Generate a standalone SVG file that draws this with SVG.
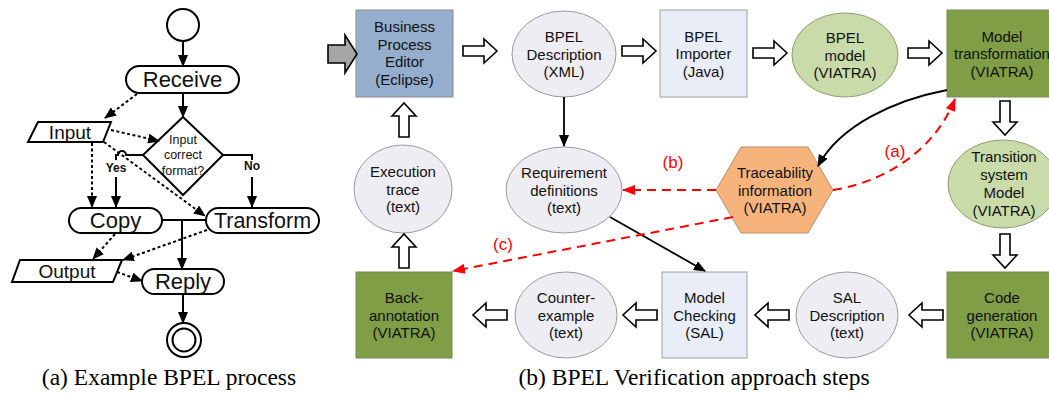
<svg xmlns="http://www.w3.org/2000/svg" xmlns:xlink="http://www.w3.org/1999/xlink" width="1049" height="394" viewBox="0 0 1049 394">
<style>
.t{font-family:"Liberation Sans",Arial,sans-serif;fill:#111;text-anchor:middle}
.n{font-size:15px}
.big{font-size:22px}
.lc{stroke:#000;stroke-width:2;fill:none}
.dot{stroke:#000;stroke-width:2;fill:none;stroke-dasharray:3,2.5}
.sol{stroke:#000;stroke-width:1.8;fill:none}
.red{stroke:#f00;stroke-width:2;fill:none;stroke-dasharray:9,6}
.ha{fill:#fff;stroke:#000;stroke-width:1.6}
.cap{font-family:"Liberation Serif","Times New Roman",serif;font-size:23.5px;fill:#000;text-anchor:middle}
.rl{font-family:"Liberation Sans",Arial,sans-serif;font-size:17px;fill:#f00;text-anchor:middle}
.blue{fill:#95aecd;stroke:#8a8a8a;stroke-width:1}
.lb{fill:#e8edf8;stroke:#a0a0a0;stroke-width:1}
.gr{fill:#eeedf3;stroke:#9a9a9a;stroke-width:1}
.ge{fill:#c9dba9;stroke:#8f9c78;stroke-width:1}
.ol{fill:#7f9e45;stroke:#7a8a60;stroke-width:1}
</style>
<defs>
<marker id="ah" viewBox="0 0 12 10" refX="11" refY="5" markerWidth="12" markerHeight="10" orient="auto" markerUnits="userSpaceOnUse"><path d="M0,0 L12,5 L0,10 z" fill="#000"/></marker>
<marker id="ahs" viewBox="0 0 12 10" refX="11" refY="5" markerWidth="12" markerHeight="10" orient="auto" markerUnits="userSpaceOnUse"><path d="M0,0 L12,5 L0,10 z" fill="#000"/></marker>
<marker id="ahr" viewBox="0 0 13 10" refX="12" refY="5" markerWidth="13" markerHeight="10" orient="auto" markerUnits="userSpaceOnUse"><path d="M0,0 L13,5 L0,10 z" fill="#f00"/></marker>
<path id="harrow" d="M0,-5 H21 V-12 L34,0 L21,12 V5 H0 Z"/>
</defs>

<!-- (a) Example BPEL process -->
<g id="start"><circle cx="183" cy="25" r="16" fill="#fff" stroke="#000" stroke-width="2"/></g>
<g id="receive"><rect x="126" y="66" width="113" height="27" rx="13.5" fill="#fff" stroke="#000" stroke-width="2"/><text class="t big" x="182.5" y="87">Receive</text></g>
<g id="input"><path d="M38,122 L111,122 L103,142 L28,142 Z" fill="#fff" stroke="#000" stroke-width="2"/><text class="t" style="font-size:19px" x="70" y="139">Input</text></g>
<g id="decision"><path d="M183,117 L223,155 L183,195 L143,155 Z" fill="#fff" stroke="#000" stroke-width="2"/><text class="t" style="font-size:12.5px" x="183" y="143.5">Input</text><text class="t" style="font-size:12.5px" x="183" y="159">correct</text><text class="t" style="font-size:12.5px" x="183" y="174.5">format?</text></g>
<g id="copy"><rect x="69" y="208" width="93" height="25" rx="12.5" fill="#fff" stroke="#000" stroke-width="2"/><text class="t big" x="115.5" y="228">Copy</text></g>
<g id="transform"><rect x="206" y="208" width="113" height="25" rx="12.5" fill="#fff" stroke="#000" stroke-width="2"/><text class="t" style="font-size:21.5px" x="262.5" y="228">Transform</text></g>
<g id="output"><path d="M20,260 L122,260 L113,282 L12,282 Z" fill="#fff" stroke="#000" stroke-width="2"/><text class="t" style="font-size:19px" x="67" y="278">Output</text></g>
<g id="reply"><rect x="142" y="269" width="82" height="25" rx="12.5" fill="#fff" stroke="#000" stroke-width="2"/><text class="t big" x="183" y="289">Reply</text></g>
<g id="end"><circle cx="184" cy="340" r="17" fill="#fff" stroke="#000" stroke-width="2"/><circle cx="184" cy="340" r="11.5" fill="#fff" stroke="#000" stroke-width="2"/></g>

<g id="connectors-a">
<path class="lc" d="M183,41 L183,66" marker-end="url(#ah)"/>
<path class="lc" d="M183,93 L183,117" marker-end="url(#ah)"/>
<path class="dot" d="M137,94 L105,118" marker-end="url(#ah)"/>
<path class="dot" d="M111,130 L159,141" marker-end="url(#ah)"/>
<path class="dot" d="M104,142 L205,216" marker-end="url(#ah)"/>
<path class="dot" d="M92,143 L92,207" marker-end="url(#ah)"/>
<path class="lc" d="M143,155 L126,155 A4,4 0 0 0 118,155 L116,155 L116,160"/>
<path class="lc" d="M116,177 L116,207" marker-end="url(#ah)"/>
<path class="lc" d="M223,155 L252,155 L252,160"/>
<path class="lc" d="M252,177 L252,207" marker-end="url(#ah)"/>
<path class="lc" d="M162,220 L206,220"/>
<path class="lc" d="M182,220 L182,269" marker-end="url(#ah)"/>
<path class="dot" d="M115,234 L93,259" marker-end="url(#ah)"/>
<path class="dot" d="M207,230 L123,260" marker-end="url(#ah)"/>
<path class="dot" d="M117,272 L142,281" marker-end="url(#ah)"/>
<path class="lc" d="M183,294 L183,323" marker-end="url(#ah)"/>
<text class="t" style="font-size:12px;font-weight:bold" x="116" y="172">Yes</text>
<text class="t" style="font-size:12px;font-weight:bold" x="252" y="170">No</text>
</g>
<text class="cap" x="169" y="385">(a) Example BPEL process</text>

<!-- (b) BPEL Verification approach steps -->
<g id="bpe"><rect class="blue" x="356" y="10" width="97" height="87"/><text class="t n" x="404.5" y="32">Business</text><text class="t n" x="404.5" y="49.5">Process</text><text class="t n" x="404.5" y="67">Editor</text><text class="t n" x="404.5" y="84.5">(Eclipse)</text></g>
<g id="bpeldesc"><ellipse class="gr" cx="564" cy="54" rx="52" ry="43"/><text class="t n" x="564" y="42">BPEL</text><text class="t n" x="564" y="59.5">Description</text><text class="t n" x="564" y="77">(XML)</text></g>
<g id="importer"><rect class="lb" x="660" y="10" width="87" height="87"/><text class="t n" x="703.5" y="41.5">BPEL</text><text class="t n" x="703.5" y="59">Importer</text><text class="t n" x="703.5" y="76.5">(Java)</text></g>
<g id="bpelmodel"><ellipse class="ge" cx="845" cy="55" rx="53" ry="42"/><text class="t n" x="845" y="43">BPEL</text><text class="t n" x="845" y="60.5">model</text><text class="t n" x="845" y="78">(VIATRA)</text></g>
<g id="modeltrans"><rect class="ol" x="947" y="10" width="112" height="87"/><text class="t n" x="1002" y="41.5">Model</text><text class="t n" x="1002" y="59">transformation</text><text class="t n" x="1002" y="76.5">(VIATRA)</text></g>
<g id="transsys"><ellipse class="ge" cx="1003" cy="184" rx="55" ry="44"/><text class="t n" x="1004" y="162">Transition</text><text class="t n" x="1004" y="180">system</text><text class="t n" x="1004" y="198">Model</text><text class="t n" x="1004" y="216">(VIATRA)</text></g>
<g id="codegen"><rect class="ol" x="947" y="272" width="112" height="86"/><text class="t n" x="1002" y="303">Code</text><text class="t n" x="1002" y="320.5">generation</text><text class="t n" x="1002" y="338">(VIATRA)</text></g>
<g id="saldesc"><ellipse class="gr" cx="847" cy="315" rx="51" ry="43"/><text class="t n" x="847" y="303">SAL</text><text class="t n" x="847" y="320.5">Description</text><text class="t n" x="847" y="338">(text)</text></g>
<g id="modelcheck"><rect class="lb" x="662" y="272" width="85" height="86"/><text class="t n" x="704.5" y="303">Model</text><text class="t n" x="704.5" y="320.5">Checking</text><text class="t n" x="704.5" y="338">(SAL)</text></g>
<g id="counter"><ellipse class="gr" cx="566" cy="315" rx="51" ry="43"/><text class="t n" x="566" y="303">Counter-</text><text class="t n" x="566" y="320.5">example</text><text class="t n" x="566" y="338">(text)</text></g>
<g id="backann"><rect class="ol" x="356" y="272" width="96" height="86"/><text class="t n" x="404" y="303">Back-</text><text class="t n" x="404" y="320.5">annotation</text><text class="t n" x="404" y="338">(VIATRA)</text></g>
<g id="exectrace"><ellipse class="gr" cx="403" cy="189" rx="49" ry="44"/><text class="t n" x="403" y="177">Execution</text><text class="t n" x="403" y="194.5">trace</text><text class="t n" x="403" y="212">(text)</text></g>
<g id="reqdef"><ellipse class="gr" cx="564" cy="190" rx="58" ry="43"/><text class="t n" x="564" y="178">Requirement</text><text class="t n" x="564" y="195.5">definitions</text><text class="t n" x="564" y="213">(text)</text></g>
<g id="trace"><path d="M741,147 L808,147 L833,190 L808,233 L741,233 L716,190 Z" fill="#f7b37c" stroke="#b89070" stroke-width="1"/><text class="t n" x="775" y="178">Traceability</text><text class="t n" x="775" y="195.5">information</text><text class="t n" x="775" y="213">(VIATRA)</text></g>

<g id="connectors-b">
<path d="M328,45 H345 V35 L357,54 L345,73 V63 H328 Z" fill="#a6a6a6" stroke="#000" stroke-width="1.6"/>
<use xlink:href="#harrow" class="ha" transform="translate(463,51)"/>
<use xlink:href="#harrow" class="ha" transform="translate(622,51)"/>
<use xlink:href="#harrow" class="ha" transform="translate(753,53)"/>
<use xlink:href="#harrow" class="ha" transform="translate(908,53)"/>
<use xlink:href="#harrow" class="ha" transform="translate(1005,101) rotate(90)"/>
<use xlink:href="#harrow" class="ha" transform="translate(1005,234) rotate(90)"/>
<use xlink:href="#harrow" class="ha" transform="translate(943,315) rotate(180)"/>
<use xlink:href="#harrow" class="ha" transform="translate(789,315) rotate(180)"/>
<use xlink:href="#harrow" class="ha" transform="translate(657,315) rotate(180)"/>
<use xlink:href="#harrow" class="ha" transform="translate(507,315) rotate(180)"/>
<use xlink:href="#harrow" class="ha" transform="translate(404,268) rotate(-90)"/>
<use xlink:href="#harrow" class="ha" transform="translate(404,137) rotate(-90)"/>
<path class="sol" d="M564,97 L564,146" marker-end="url(#ahs)"/>
<path class="sol" d="M610,217 L705,271" marker-end="url(#ahs)"/>
<path class="sol" d="M947,90 C895,100 840,125 818,166" marker-end="url(#ahs)"/>
<path class="red" d="M833,190 C885,182 935,150 955,99" marker-end="url(#ahr)"/>
<path class="red" d="M716,190 L623,190" marker-end="url(#ahr)"/>
<path class="red" d="M733,217 L453,271" marker-end="url(#ahr)"/>
<text class="rl" x="895" y="157">(a)</text>
<text class="rl" x="673" y="168">(b)</text>
<text class="rl" x="503" y="250">(c)</text>
</g>
<text class="cap" x="694" y="385">(b) BPEL Verification approach steps</text>
</svg>
